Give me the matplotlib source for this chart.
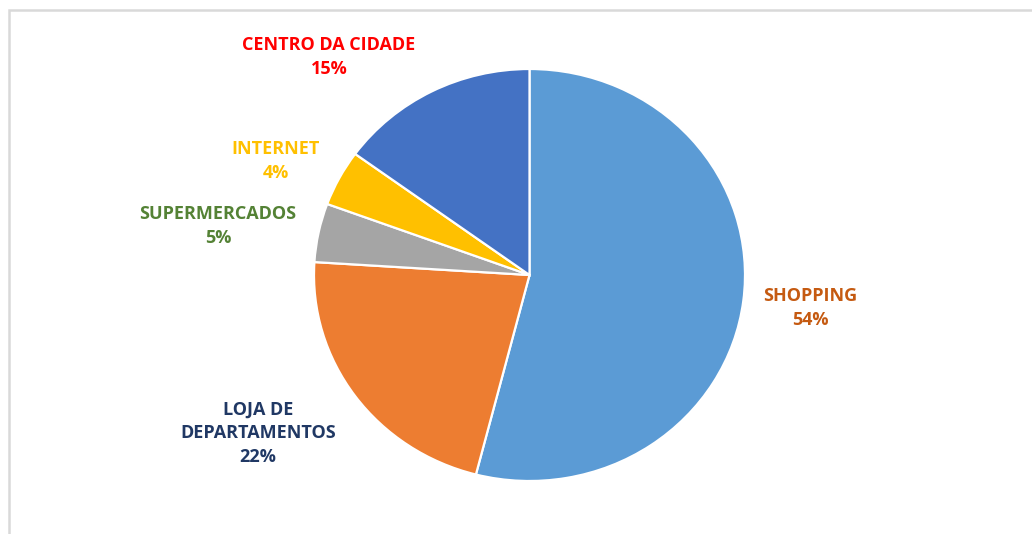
import matplotlib
matplotlib.use('Agg')
import matplotlib.pyplot as plt
from matplotlib.patches import Rectangle

# Data (clockwise from 12 o'clock)
categories = ['SHOPPING', 'LOJA DE\nDEPARTAMENTOS', 'SUPERMERCADOS', 'INTERNET', 'CENTRO DA CIDADE']
shares = [54.0, 22.0, 4.6, 4.4, 15.0]
wedge_colors = ['#5B9BD5', '#ED7D31', '#A5A5A5', '#FFC000', '#4472C4']
label_colors = ['#C55A11', '#203864', '#548235', '#FFC000', '#FF0000']

W, H = 1032, 534
fig = plt.figure(figsize=(W / 100, H / 100), dpi=100)

# pie box in pixels (slightly wider than tall, as in the reference)
left, right, top, bottom = 314, 745, 69, 481
ax = fig.add_axes([left / W, 1 - bottom / H, (right - left) / W, (bottom - top) / H])
ax.pie(shares, colors=wedge_colors, startangle=90, counterclock=False,
       wedgeprops=dict(edgecolor='white', linewidth=1.6))
ax.set_aspect('auto')
ax.set_xlim(-1, 1)
ax.set_ylim(-1, 1)
ax.axis('off')

# label anchor points (pixel centres of the text blocks)
label_pos = [(810, 308), (258, 433), (218, 226), (276, 161), (329, 57)]
total = sum(shares)
for name, val, col, (px, py) in zip(categories, shares, label_colors, label_pos):
    txt = f"{name}\n{round(val / total * 100):.0f}%"
    fig.text(px / W, 1 - py / H, txt, ha='center', va='center', color=col,
             fontsize=13, fontweight='bold', family=['Open Sans', 'DejaVu Sans'],
             linespacing=1.4)

# light grey chart frame (runs off the right / bottom edge)
fig.patches.append(Rectangle((9 / W, -0.05), 1.1, 1 - 10 / H + 0.05,
                             transform=fig.transFigure, fill=False,
                             edgecolor='#D9D9D9', linewidth=1.8))

fig.savefig('out.png', dpi=100)
